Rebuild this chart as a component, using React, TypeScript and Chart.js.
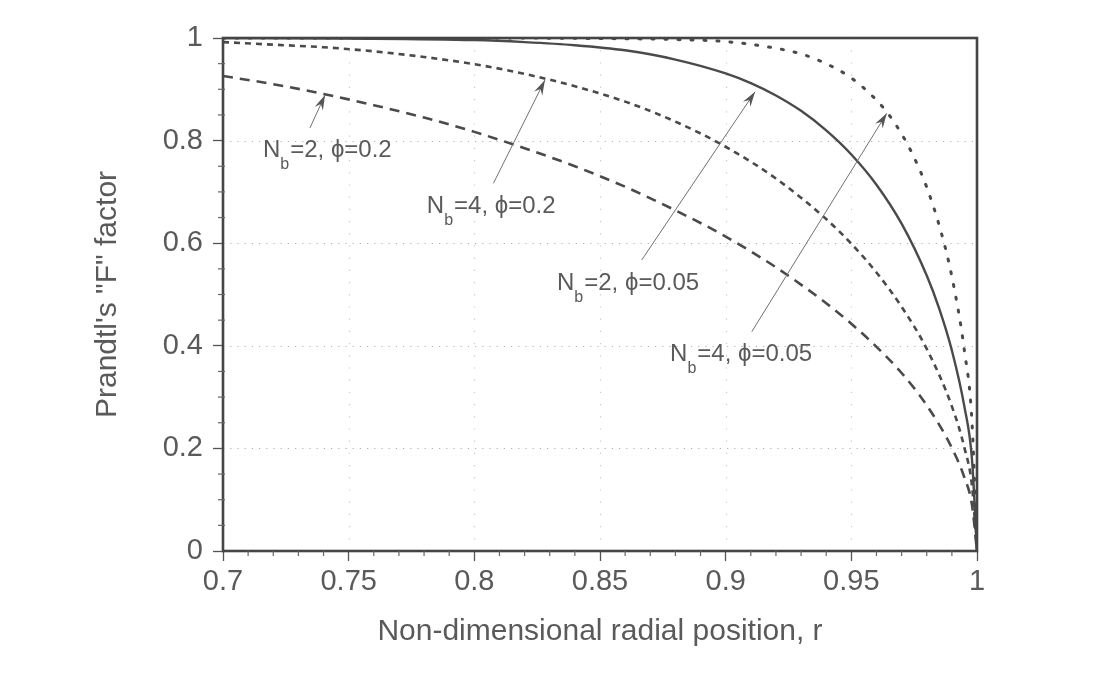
import React, { useEffect, useRef } from 'react';
import { Chart, registerables } from 'chart.js';

Chart.register(...registerables);

// ---- Data ----
// N_b = 2, phi = 0.2 (long dashes)
const rA = [0.70, 0.72, 0.74, 0.76, 0.78, 0.80, 0.82, 0.84, 0.86, 0.88, 0.90, 0.92, 0.94, 0.95, 0.96, 0.97, 0.98, 0.99, 0.995, 0.998, 1.0];
const fA = [0.926, 0.910, 0.891, 0.869, 0.845, 0.817, 0.785, 0.750, 0.710, 0.664, 0.613, 0.553, 0.483, 0.443, 0.398, 0.347, 0.284, 0.201, 0.143, 0.090, 0.0];
// N_b = 4, phi = 0.2 (short dashes)
const rB = [0.70, 0.72, 0.74, 0.76, 0.78, 0.80, 0.82, 0.84, 0.86, 0.88, 0.90, 0.92, 0.94, 0.95, 0.96, 0.97, 0.98, 0.99, 0.995, 0.998, 1.0];
const fB = [0.992, 0.987, 0.982, 0.974, 0.963, 0.949, 0.930, 0.906, 0.876, 0.837, 0.788, 0.726, 0.647, 0.599, 0.543, 0.476, 0.394, 0.282, 0.201, 0.127, 0.0];
// N_b = 2, phi = 0.05 (solid)
const rC = [0.70, 0.75, 0.80, 0.82, 0.84, 0.86, 0.88, 0.90, 0.91, 0.92, 0.93, 0.94, 0.95, 0.96, 0.97, 0.98, 0.985, 0.99, 0.995, 0.998, 1.0];
const fC = [1.000, 0.999, 0.996, 0.992, 0.986, 0.976, 0.958, 0.931, 0.912, 0.888, 0.858, 0.820, 0.773, 0.714, 0.638, 0.537, 0.472, 0.391, 0.281, 0.179, 0.0];
// N_b = 4, phi = 0.05 (dotted)
const rD = [0.70, 0.80, 0.85, 0.88, 0.90, 0.92, 0.93, 0.94, 0.95, 0.96, 0.965, 0.97, 0.975, 0.98, 0.985, 0.99, 0.995, 0.998, 1.0];
const fD = [1.000, 1.000, 0.999, 0.997, 0.993, 0.980, 0.969, 0.950, 0.922, 0.879, 0.850, 0.813, 0.767, 0.709, 0.634, 0.535, 0.390, 0.252, 0.0];

const xTicks = [0.7, 0.75, 0.8, 0.85, 0.9, 0.95, 1];
const xTickLabels = ['0.7', '0.75', '0.8', '0.85', '0.9', '0.95', '1'];
const yTicks = [0, 0.2, 0.4, 0.6, 0.8, 1];
const yTickLabels = ['0', '0.2', '0.4', '0.6', '0.8', '1'];
const xMinorTicks = [0.71, 0.72, 0.73, 0.74, 0.76, 0.77, 0.78, 0.79, 0.81, 0.82, 0.83, 0.84, 0.86, 0.87, 0.88, 0.89, 0.91, 0.92, 0.93, 0.94, 0.96, 0.97, 0.98, 0.99];
const yMinorTicks = [0.05, 0.1, 0.15, 0.25, 0.3, 0.35, 0.45, 0.5, 0.55, 0.65, 0.7, 0.75, 0.85, 0.9, 0.95];
const yGrid = [0.2, 0.4, 0.6, 0.8];
const xGrid = [0.75, 0.8, 0.85, 0.9, 0.95];

const xTitle = 'Non-dimensional radial position, r';
const yTitle = 'Prandtl\'s "F" factor';

// annotation labels with arrows (data coordinates)
const labelMain = ['N', 'N', 'N', 'N'];
const labelSub = ['b', 'b', 'b', 'b'];
const labelRest = ['=2, \u03D5=0.2', '=4, \u03D5=0.2', '=2, \u03D5=0.05', '=4, \u03D5=0.05'];
const labelPos = [[0.7159, 0.768], [0.7811, 0.658], [0.8329, 0.509], [0.8779, 0.370]];
const arrowTail = [[0.7346, 0.8246], [0.8076, 0.7168], [0.8666, 0.5673], [0.9104, 0.4275]];
const arrowTip = [[0.7406, 0.8889], [0.8281, 0.9181], [0.9117, 0.8953], [0.9641, 0.8532]];

const FONT = '"Liberation Sans", Arial, Helvetica, sans-serif';
const INK = '#4a4a4a';
const TEXT = '#5a5a5a';

function toXY(r: number[], f: number[]) {
  return r.map((x, i) => ({ x, y: f[i] }));
}

const decorPlugin = {
  id: 'decor',
  beforeDatasetsDraw(chart: any) {
    const { ctx, chartArea: a, scales } = chart;
    const xs = scales.x, ys = scales.y;
    ctx.save();
    ctx.lineWidth = 1.2;
    ctx.strokeStyle = '#b0b0b0';
    ctx.setLineDash([1.2, 6]);
    yGrid.forEach((v) => {
      const y = Math.round(ys.getPixelForValue(v)) + 0.5;
      ctx.beginPath();
      ctx.moveTo(a.left, y);
      ctx.lineTo(a.right, y);
      ctx.stroke();
    });
    ctx.strokeStyle = '#c8c8c8';
    ctx.setLineDash([1.2, 11]);
    xGrid.forEach((v) => {
      const x = Math.round(xs.getPixelForValue(v)) + 0.5;
      ctx.beginPath();
      ctx.moveTo(x, a.top);
      ctx.lineTo(x, a.bottom);
      ctx.stroke();
    });
    ctx.restore();
  },
  afterDatasetsDraw(chart: any) {
    const { ctx, chartArea: a, scales } = chart;
    const xs = scales.x, ys = scales.y;
    ctx.save();
    // frame
    ctx.setLineDash([]);
    ctx.lineWidth = 2.6;
    ctx.strokeStyle = '#454545';
    ctx.strokeRect(a.left, a.top, a.right - a.left, a.bottom - a.top);
    // minor ticks
    ctx.lineWidth = 1.2;
    ctx.strokeStyle = '#666';
    xMinorTicks.forEach((v) => {
      const x = xs.getPixelForValue(v);
      ctx.beginPath();
      ctx.moveTo(x, a.bottom);
      ctx.lineTo(x, a.bottom + 5);
      ctx.stroke();
    });
    yMinorTicks.forEach((v) => {
      const y = ys.getPixelForValue(v);
      ctx.beginPath();
      ctx.moveTo(a.left - 5, y);
      ctx.lineTo(a.left + 2, y);
      ctx.stroke();
    });
    // annotations
    for (let i = 0; i < labelRest.length; i++) {
      const tx = xs.getPixelForValue(arrowTail[i][0]);
      const ty = ys.getPixelForValue(arrowTail[i][1]);
      const hx = xs.getPixelForValue(arrowTip[i][0]);
      const hy = ys.getPixelForValue(arrowTip[i][1]);
      ctx.strokeStyle = '#707070';
      ctx.lineWidth = 1;
      ctx.beginPath();
      ctx.moveTo(tx, ty);
      ctx.lineTo(hx, hy);
      ctx.stroke();
      const ang = Math.atan2(hy - ty, hx - tx);
      const L = 15, W = 4.5, N = 10;
      const bx = Math.cos(ang), by = Math.sin(ang);
      const px = -by, py = bx;
      ctx.fillStyle = '#555';
      ctx.beginPath();
      ctx.moveTo(hx, hy);
      ctx.lineTo(hx - bx * L + px * W, hy - by * L + py * W);
      ctx.lineTo(hx - bx * N, hy - by * N);
      ctx.lineTo(hx - bx * L - px * W, hy - by * L - py * W);
      ctx.closePath();
      ctx.fill();

      const lx = xs.getPixelForValue(labelPos[i][0]);
      const ly = ys.getPixelForValue(labelPos[i][1]);
      ctx.fillStyle = TEXT;
      ctx.textBaseline = 'alphabetic';
      ctx.textAlign = 'left';
      ctx.font = `24px ${FONT}`;
      ctx.fillText(labelMain[i], lx, ly);
      let cx = lx + ctx.measureText(labelMain[i]).width;
      ctx.font = `16px ${FONT}`;
      ctx.fillText(labelSub[i], cx, ly + 12);
      cx += ctx.measureText(labelSub[i]).width + 1;
      ctx.font = `24px ${FONT}`;
      ctx.fillText(labelRest[i], cx, ly);
    }
    ctx.restore();
  },
};

export default function App() {
  const ref = useRef<HTMLCanvasElement | null>(null);
  useEffect(() => {
    if (!ref.current) return;
    Chart.defaults.font.family = FONT;
    const chart = new Chart(ref.current, {
      type: 'line',
      data: {
        datasets: [
          {
            label: 'N_b=2, phi=0.2',
            data: toXY(rA, fA),
            borderColor: INK,
            borderWidth: 2.6,
            borderDash: [10, 7],
            pointRadius: 0,
            cubicInterpolationMode: 'monotone',
            fill: false,
          },
          {
            label: 'N_b=4, phi=0.2',
            data: toXY(rB, fB),
            borderColor: INK,
            borderWidth: 2.6,
            borderDash: [6, 5],
            pointRadius: 0,
            cubicInterpolationMode: 'monotone',
            fill: false,
          },
          {
            label: 'N_b=2, phi=0.05',
            data: toXY(rC, fC),
            borderColor: INK,
            borderWidth: 2.4,
            pointRadius: 0,
            cubicInterpolationMode: 'monotone',
            fill: false,
          },
          {
            label: 'N_b=4, phi=0.05',
            data: toXY(rD, fD),
            borderColor: INK,
            borderWidth: 3,
            borderDash: [2, 11],
            borderCapStyle: 'round',
            pointRadius: 0,
            cubicInterpolationMode: 'monotone',
            fill: false,
          },
        ],
      },
      options: {
        animation: false,
        responsive: false,
        maintainAspectRatio: false,
        layout: { padding: { left: 0, right: 118, top: 30, bottom: 0 } },
        plugins: { legend: { display: false }, tooltip: { enabled: false } },
        scales: {
          x: {
            type: 'linear',
            min: 0.7,
            max: 1,
            afterBuildTicks: (s: any) => {
              s.ticks = xTicks.map((v) => ({ value: v }));
            },
            afterFit: (s: any) => {
              s.height = 116;
            },
            ticks: {
              font: { size: 29 },
              color: TEXT,
              padding: 4,
              maxRotation: 0,
              autoSkip: false,
              callback: (_v: any, i: number) => xTickLabels[i],
            },
            grid: { drawOnChartArea: false, drawTicks: true, tickLength: 10, tickColor: '#555', tickWidth: 1.3 },
            border: { display: false },
            title: { display: true, text: xTitle, font: { size: 30 }, color: TEXT, padding: { top: 4, bottom: 17 } },
          },
          y: {
            type: 'linear',
            min: 0,
            max: 1,
            afterBuildTicks: (s: any) => {
              s.ticks = yTicks.map((v) => ({ value: v }));
            },
            afterFit: (s: any) => {
              s.width = 215;
            },
            ticks: {
              font: { size: 29 },
              color: TEXT,
              padding: 10,
              autoSkip: false,
              callback: (_v: any, i: number) => yTickLabels[i],
            },
            grid: { drawOnChartArea: false, drawTicks: true, tickLength: 10, tickColor: '#555', tickWidth: 1.3 },
            border: { display: false },
            title: { display: true, text: yTitle, font: { size: 30 }, color: TEXT, padding: { top: 82, bottom: 0 } },
          },
        },
      },
      plugins: [decorPlugin],
    } as any);
    return () => chart.destroy();
  }, []);
  return (
    <div style={{ width: 1087, height: 659, background: '#fff' }}>
      <canvas ref={ref} width={1087} height={659} style={{ display: 'block', width: 1087, height: 659 }} />
    </div>
  );
}
